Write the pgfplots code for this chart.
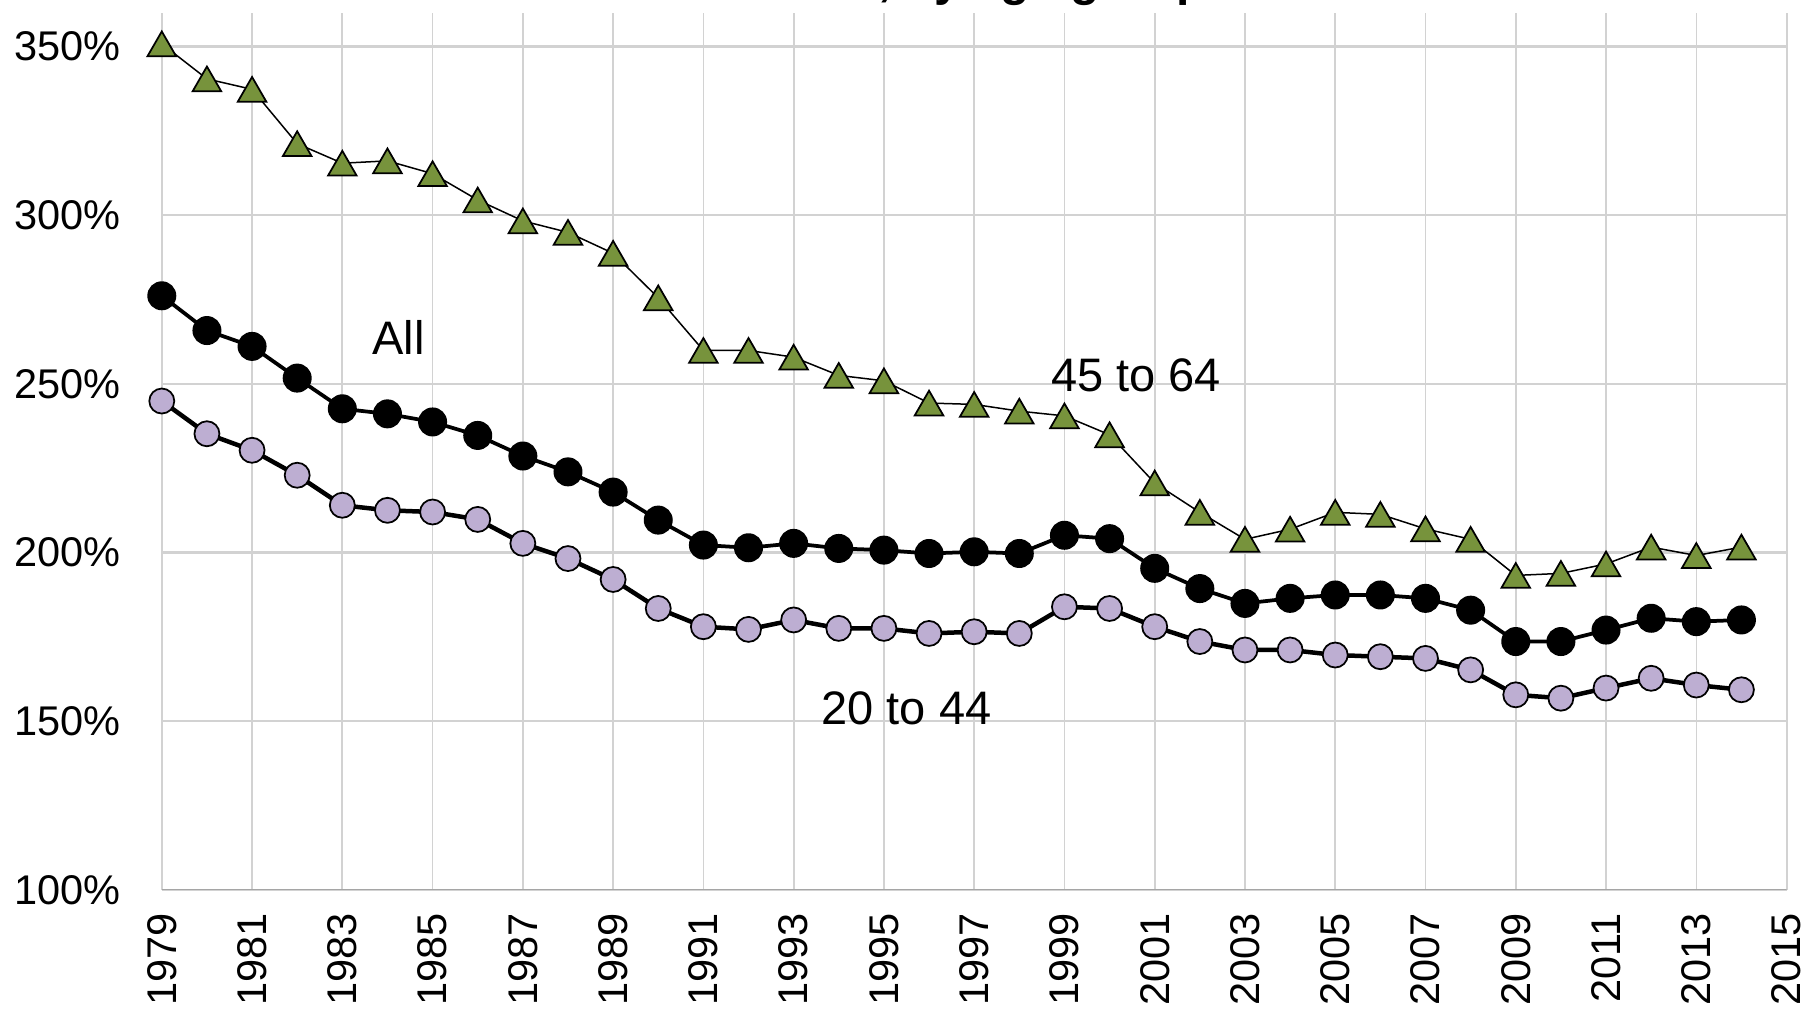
\documentclass[border=0pt]{standalone}
\usepackage{pgfplots}
\usepackage{pgfplotstable}
\pgfplotsset{compat=1.18}
\usepackage{fontspec}
\setmainfont{Liberation Sans}
\definecolor{grn}{RGB}{119,147,60}
\definecolor{lav}{RGB}{189,174,210}
\definecolor{gridc}{RGB}{210,210,210}
\definecolor{axc}{RGB}{165,165,165}
\pgfplotstableread{
year all young old
1979 276.1 244.9 350.8
1980 265.8 235.2 340.4
1981 261.1 230.3 337.3
1982 251.7 222.9 321.2
1983 242.6 214.0 315.4
1984 241.1 212.5 316.1
1985 238.7 212.0 312.3
1986 234.7 209.8 304.5
1987 228.6 202.7 298.3
1988 223.9 198.2 294.9
1989 217.9 192.0 288.7
1990 209.6 183.4 275.5
1991 202.2 178.0 259.9
1992 201.4 177.2 259.9
1993 202.7 180.0 257.9
1994 201.2 177.5 252.5
1995 200.7 177.5 250.9
1996 199.7 176.0 244.3
1997 200.2 176.5 243.9
1998 199.7 176.0 241.9
1999 205.1 183.9 240.5
2000 204.1 183.4 234.9
2001 195.3 178.0 220.6
2002 189.3 173.6 211.9
2003 184.9 171.1 203.9
2004 186.4 171.1 206.9
2005 187.4 169.6 211.9
2006 187.4 169.1 211.3
2007 186.4 168.6 207.0
2008 182.9 165.2 203.9
2009 173.6 157.8 193.2
2010 173.6 156.8 193.8
2011 177.0 159.8 196.6
2012 180.5 162.7 201.6
2013 179.5 160.7 199.1
2014 180.0 159.3 201.6
}\data
\begin{document}
\begin{tikzpicture}
\begin{axis}[
  at={(0,0)}, anchor=south west,
  scale only axis, width=649.9pt, height=350.8pt,
  xmin=1979, xmax=2015, ymin=100, ymax=360,
  axis line style={draw=none},
  tick style={draw=none},
  xtick={1979,1981,...,2015},
  xticklabels={1979,1981,1983,1985,1987,1989,1991,1993,1995,1997,1999,2001,2003,2005,2007,2009,2011,2013,2015},
  ytick={100,150,200,250,300,350},
  yticklabels={100\%,150\%,200\%,250\%,300\%,350\%},
  xmajorgrids, ymajorgrids,
  x grid style={gridc, line width=0.7pt},
  y grid style={gridc, line width=1pt},
  tick label style={font=\fontsize{16.6pt}{19pt}\selectfont, inner sep=0pt},
  xticklabel style={rotate=90, anchor=east},
  yticklabel style={anchor=east},
  xticklabel shift=9.2pt,
  yticklabel shift=16.2pt,
  /pgf/number format/assume math mode=true,
]
\draw[axc, line width=1pt] (rel axis cs:0,0) -- (rel axis cs:1,0);
\addplot[black, line width=0.6pt, mark=triangle*, mark size=6.6pt,
  mark options={fill=grn, draw=black, line width=0.7pt, yshift=-1.65pt}]
  table[x=year, y=old]{\data};
\addplot[black, line width=1.8pt, mark=*, mark size=5.0pt,
  mark options={fill=lav, draw=black, line width=0.7pt}]
  table[x=year, y=young]{\data};
\addplot[black, line width=1.5pt, mark=*, mark size=5.5pt,
  mark options={fill=black, draw=black, line width=0.6pt}]
  table[x=year, y=all]{\data};
\node[font=\fontsize{18.8pt}{22pt}\selectfont] at (axis cs:1984.25,263.8) {All};
\node[font=\fontsize{18.8pt}{22pt}\selectfont] at (axis cs:2000.59,252.6) {45 to 64};
\node[font=\fontsize{18.8pt}{22pt}\selectfont] at (axis cs:1995.5,153.8) {20 to 44};
\end{axis}
\node[anchor=base east, font=\bfseries\fontsize{19.2pt}{22pt}\selectfont] at (421.3pt,357.9pt) {, by age group};
\pgfresetboundingbox
\path[use as bounding box] (-64.72pt,-50.08pt) rectangle (660.08pt,355.92pt);
\end{tikzpicture}
\end{document}
